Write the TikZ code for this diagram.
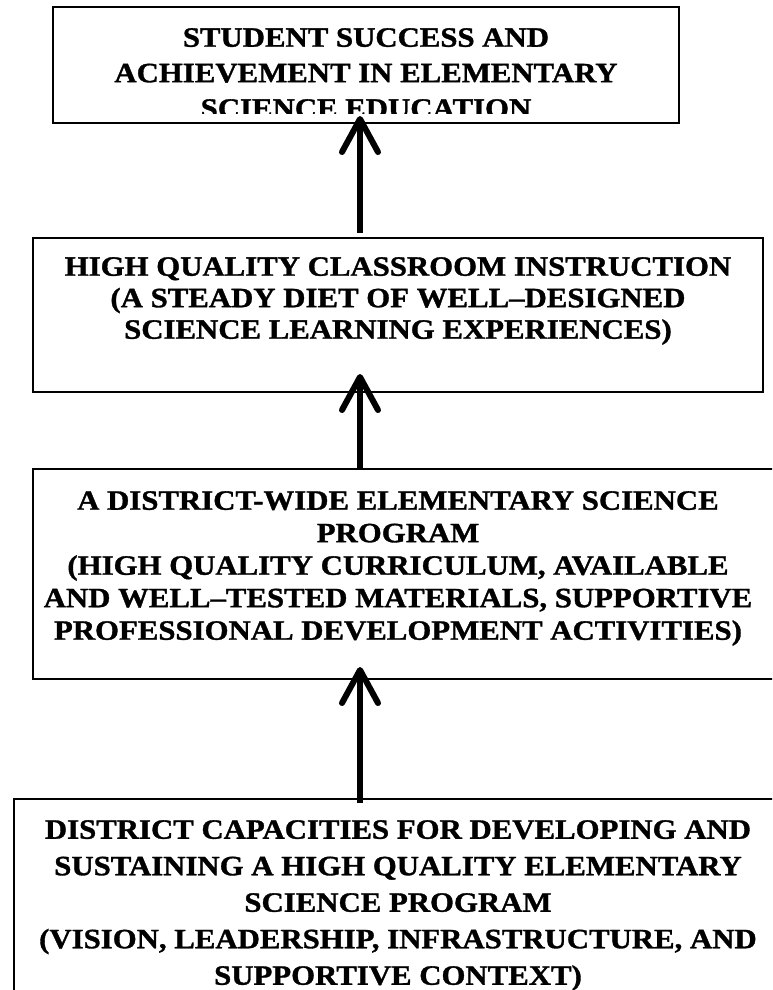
\documentclass[tikz,border=0pt]{standalone}
\usepackage{fontspec}
\usetikzlibrary{arrows.meta}
\newfontfamily\boxfont{Liberation Serif}[FakeStretch=1.1,FakeBold=1.2]
\begin{document}
\begin{tikzpicture}[x=1pt,y=-1pt,
  box/.style={draw=black,line width=1.6pt,inner sep=0pt,rectangle},
  label/.style={inner sep=0pt,anchor=north,align=center,
    font=\boxfont\bfseries\fontsize{28}{31.5}\selectfont},
  uparrow/.style={line width=6pt,
    -{Straight Barb[length=33pt,width=36pt,round]}}]
\useasboundingbox (0,0) rectangle (772,990);
\clip (0,0) rectangle (772,990);

% boxes, from the goal at the top down to the district capacities
\node[box,minimum width=626pt,minimum height=116pt] (b1) at (366,65) {};
\node[box,minimum width=730pt,minimum height=154pt] (b2) at (398,315) {};
\node[box,minimum width=752pt,minimum height=210pt] (b3) at (409,574) {};
\node[box,minimum width=772pt,minimum height=211pt] (b4) at (400,904.5) {};

% box texts; the last line of the top box runs past its text area
\begin{scope}
  \clip (b1.north west) rectangle ([yshift=10pt]b1.south east);
  \node[label,font=\boxfont\bfseries\fontsize{28}{35.5}\selectfont] (t1) at (366,28)
    {STUDENT SUCCESS AND\\ACHIEVEMENT IN ELEMENTARY\\SCIENCE EDUCATION};
\end{scope}
\node[label] (t2) at (398,257)
  {HIGH QUALITY CLASSROOM INSTRUCTION\\(A STEADY DIET OF WELL–DESIGNED\\SCIENCE LEARNING EXPERIENCES)};
\node[label,font=\boxfont\bfseries\fontsize{28}{32.5}\selectfont] (t3) at (398,491)
  {A DISTRICT-WIDE ELEMENTARY SCIENCE\\PROGRAM\\(HIGH QUALITY CURRICULUM, AVAILABLE\\AND WELL–TESTED MATERIALS, SUPPORTIVE\\PROFESSIONAL DEVELOPMENT ACTIVITIES)};
\node[label,font=\boxfont\bfseries\fontsize{28}{36.5}\selectfont] (t4) at (398,820)
  {DISTRICT CAPACITIES FOR DEVELOPING AND\\SUSTAINING A HIGH QUALITY ELEMENTARY\\SCIENCE PROGRAM\\(VISION, LEADERSHIP, INFRASTRUCTURE, AND\\SUPPORTIVE CONTEXT)};

% arrow ends
\coordinate (a1s) at (360,233);
\coordinate (a1e) at (360,116);
\coordinate (a2s) at (360,469);
\coordinate (a2e) at (360,374);
\coordinate (a3s) at (360,803);
\coordinate (a3e) at (360,667);

\draw[uparrow] (a1s) -- (a1e);
\draw[uparrow] (a2s) -- (a2e);
\draw[uparrow] (a3s) -- (a3e);
\end{tikzpicture}
\end{document}
